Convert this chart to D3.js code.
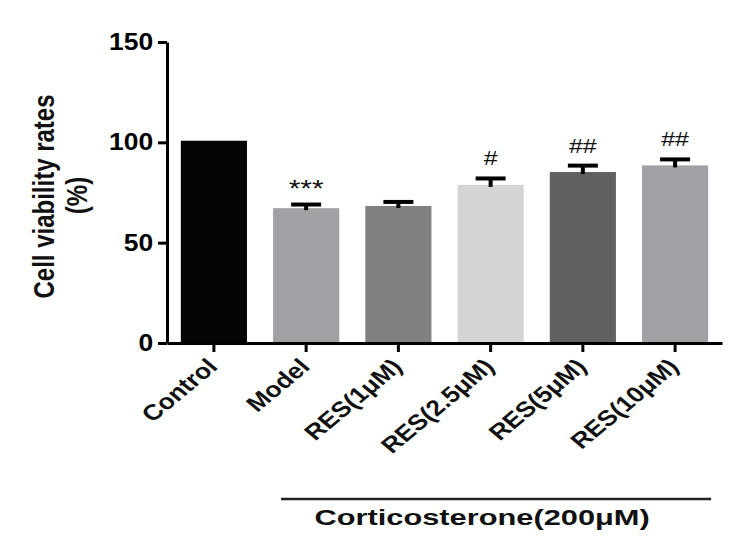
<!DOCTYPE html>
<html>
<head>
<meta charset="utf-8">
<script src="https://cdn.jsdelivr.net/npm/d3@7"></script>
<style>
	body { margin: 0; background: #fff; }
	text { font-family: "Liberation Sans", Arial, sans-serif; }
</style>
</head>
<body>
<svg></svg>
<script>
// Data
var groups = ["Control", "Model", "RES(1μM)", "RES(2.5μM)", "RES(5μM)", "RES(10μM)"];
var means = [100.8, 67.2, 68.3, 78.8, 85.2, 88.5];
var errs = [0, 1.8, 2.0, 3.2, 3.2, 3.0];
var marks = ["", "***", "", "#", "##", "##"];
var fills = ["#050505", "#a1a1a5", "#808080", "#d4d4d4", "#616161", "#a1a1a5"];
var yTicks = [0, 50, 100, 150];

var WIDTH = 739,
	HEIGHT = 553,
	AXIS_X = 167,
	AXIS_RIGHT = 722,
	Y_TOP = 42,
	Y_BOTTOM = 343,
	LINE_W = 3,
	CAP_W = 30,
	SX = 1.25; // figure is stretched horizontally, text looks wide

var svg = d3.select("svg")
	.attr("width", WIDTH)
	.attr("height", HEIGHT);

var x = d3.scaleBand()
	.domain(groups)
	.range([AXIS_X, AXIS_RIGHT])
	.paddingInner(0.283)
	.paddingOuter(0.15);

var y = d3.scaleLinear()
	.domain([0, 150])
	.range([Y_BOTTOM, Y_TOP]);

//////////// Bars

svg.selectAll("rect.bar")
	.data(groups)
  .enter().append("rect")
	.attr("class", "bar")
	.attr("x", function(d) {return x(d);})
	.attr("width", x.bandwidth())
	.attr("y", function(d, i) {return y(means[i]);})
	.attr("height", function(d, i) {return y(0) - y(means[i]);})
	.attr("fill", function(d, i) {return fills[i];});

//////////// Error bars (upper half only)

var err = svg.selectAll("g.err")
	.data(groups.filter(function(d, i) {return errs[i] > 0;}))
  .enter().append("g")
	.attr("class", "err")
	.attr("transform", function(d) {return "translate(" + (x(d) + x.bandwidth() / 2) + ",0)";});

err.append("line")
	.attr("y1", function(d) {return y(means[groups.indexOf(d)]) + 2;})
	.attr("y2", function(d) {var i = groups.indexOf(d); return y(means[i] + errs[i]);})
	.attr("stroke", "#000")
	.attr("stroke-width", 4);

err.append("line")
	.attr("x1", -CAP_W / 2)
	.attr("x2", CAP_W / 2)
	.attr("y1", function(d) {var i = groups.indexOf(d); return y(means[i] + errs[i]);})
	.attr("y2", function(d) {var i = groups.indexOf(d); return y(means[i] + errs[i]);})
	.attr("stroke", "#000")
	.attr("stroke-width", 4);

// Significance marks
svg.selectAll("text.mark")
	.data(groups)
  .enter().append("text")
	.attr("class", "mark")
	.attr("text-anchor", "middle")
	.attr("font-size", function(d, i) {return marks[i] == "***" ? 24 : 20;})
	.attr("fill", "#111")
	.attr("transform", function(d, i) {
			var gap = marks[i] == "***" ? 8 : 13;
			return "translate(" + (x(d) + x.bandwidth() / 2) + "," + (y(means[i] + errs[i]) - gap) + ") scale(" + SX + ",1)";
		})
	.text(function(d, i) {return marks[i];});

//////////// Axes

var yAxis = svg.append("g")
	.attr("transform", "translate(" + AXIS_X + ",0)")
	.call(d3.axisLeft(y).tickValues(yTicks).tickSize(9).tickSizeOuter(0).tickPadding(3));

yAxis.selectAll("path, line")
	.attr("stroke", "#000")
	.attr("stroke-width", LINE_W);

yAxis.selectAll("text")
	.attr("font-size", 23)
	.attr("font-weight", "bold")
	.attr("fill", "#000")
	.attr("font-family", "'Liberation Sans', Arial, sans-serif")
	.attr("transform", "scale(1.15,1)");

var xAxis = svg.append("g")
	.attr("transform", "translate(0," + Y_BOTTOM + ")")
	.call(d3.axisBottom(x).tickSize(9).tickSizeOuter(0).tickFormat(""));

xAxis.selectAll("path, line")
	.attr("stroke", "#000")
	.attr("stroke-width", LINE_W);

// Rotated group labels
svg.selectAll("text.xlab")
	.data(groups)
  .enter().append("text")
	.attr("class", "xlab")
	.attr("text-anchor", "end")
	.attr("font-size", 22)
	.attr("font-weight", "bold")
	.attr("fill", "#111")
	.attr("transform", function(d) {
			return "translate(" + (x(d) + x.bandwidth() / 2 + 5) + "," + (Y_BOTTOM + 25) + ") scale(1.2,1) rotate(-45)";
		})
	.text(function(d) {return d;});

// Y axis title
var yTitle = svg.append("g")
	.attr("font-size", 24)
	.attr("font-weight", "bold")
	.attr("fill", "#111")
	.attr("text-anchor", "middle");

yTitle.append("text")
	.attr("transform", "translate(54," + (y(75) + 4) + ") scale(1.25,1) rotate(-90)")
	.text("Cell viability rates");

yTitle.append("text")
	.attr("transform", "translate(87," + (y(75) + 3) + ") scale(1.25,1) rotate(-90)")
	.text("(%)");

//////////// Treatment bracket

var bx1 = x("Model") + 8,
	bx2 = x("RES(10μM)") + x.bandwidth() + 3,
	BRACKET_Y = 499;

svg.append("line")
	.attr("x1", bx1)
	.attr("x2", bx2)
	.attr("y1", BRACKET_Y)
	.attr("y2", BRACKET_Y)
	.attr("stroke", "#222")
	.attr("stroke-width", 2.5);

svg.append("text")
	.attr("text-anchor", "middle")
	.attr("font-size", 22)
	.attr("font-weight", "bold")
	.attr("fill", "#111")
	.attr("transform", "translate(" + ((bx1 + bx2) / 2 - 14) + "," + (BRACKET_Y + 26) + ") scale(1.4,1)")
	.text("Corticosterone(200μM)");
</script>
</body>
</html>
